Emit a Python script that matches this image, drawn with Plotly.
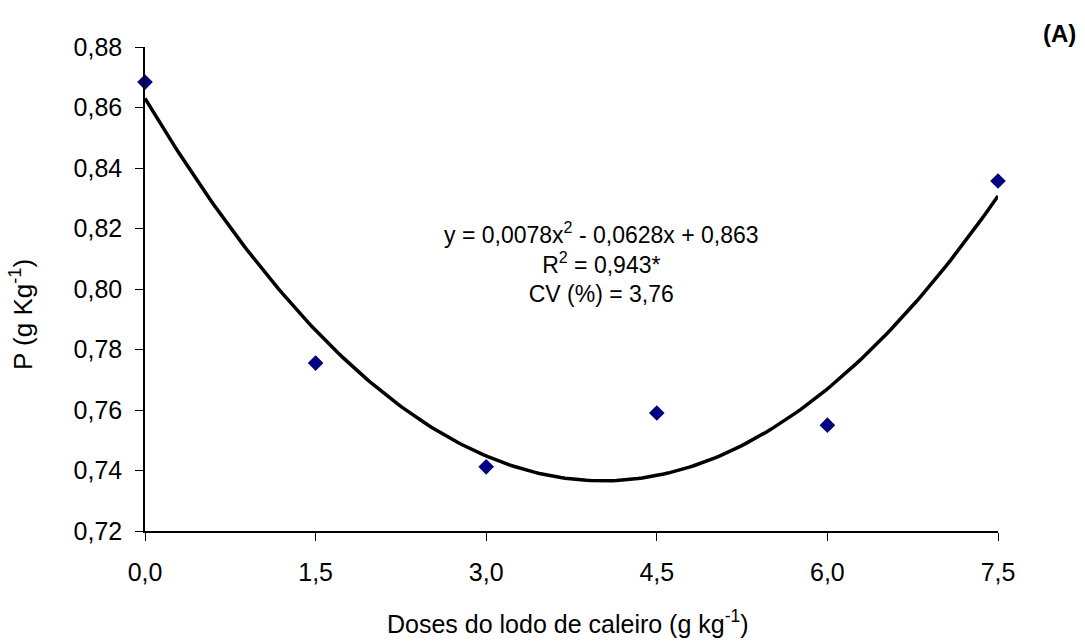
import numpy as np
import plotly.graph_objects as go

doses = [0.0, 1.5, 3.0, 4.5, 6.0, 7.5]
p_values = [0.8684, 0.7755, 0.7412, 0.7590, 0.7550, 0.8357]
coef = [0.0078, -0.0628, 0.863]  # trendline y = a x^2 + b x + c, from the chart's equation
x_ticks = [0.0, 1.5, 3.0, 4.5, 6.0, 7.5]
x_tick_labels = ["0,0", "1,5", "3,0", "4,5", "6,0", "7,5"]
y_ticks = [0.72, 0.74, 0.76, 0.78, 0.80, 0.82, 0.84, 0.86, 0.88]
y_tick_labels = ["0,72", "0,74", "0,76", "0,78", "0,80", "0,82", "0,84", "0,86", "0,88"]

xs = np.linspace(0, 7.5, 200)
ys = coef[0] * xs**2 + coef[1] * xs + coef[2]

font = "Liberation Sans, Arial, sans-serif"

fig = go.Figure()
fig.add_trace(go.Scatter(x=xs, y=ys, mode="lines",
                         line=dict(color="black", width=3.5), hoverinfo="skip"))
fig.add_trace(go.Scatter(x=doses, y=p_values, mode="markers",
                         marker=dict(symbol="diamond", size=12, color="#000080")))

fig.update_layout(
    width=1085, height=641,
    margin=dict(l=145, r=87, t=47, b=110),
    paper_bgcolor="white", plot_bgcolor="white",
    showlegend=False,
    font=dict(family=font, color="black", size=20),
    xaxis=dict(range=[0, 7.5], tickvals=x_ticks, ticktext=x_tick_labels,
               showgrid=False, zeroline=False, showline=True, linecolor="black",
               linewidth=1.5, ticks="outside", ticklen=8, tickcolor="black",
               tickfont=dict(size=25), ticklabelstandoff=10),
    yaxis=dict(range=[0.72, 0.88], tickvals=y_ticks, ticktext=y_tick_labels,
               showgrid=False, zeroline=False, showline=True, linecolor="black",
               linewidth=1.5, ticks="outside", ticklen=8, tickcolor="black",
               tickfont=dict(size=25), ticklabelstandoff=8),
)
fig.update_traces(cliponaxis=False)

W, H = 1085, 641
L, R, T, B = 145, 87, 47, 110
pw, ph = W - L - R, H - T - B


def add_px_annotation(px, py, text, **kw):
    fig.add_annotation(x=(px - L) / pw, y=1 - (py - T) / ph, xref="paper", yref="paper",
                       xanchor="center", yanchor="middle", showarrow=False, text=text, **kw)


add_px_annotation(568, 622, "Doses do lodo de caleiro (g kg<sup>-1</sup>)", font=dict(size=25))
add_px_annotation(21, 315, "P (g Kg<sup>-1</sup>)", textangle=-90, font=dict(size=26))
add_px_annotation(1059, 34, "<b>(A)</b>", font=dict(size=24))
add_px_annotation(601, 262,
                  "y = 0,0078x<sup>2</sup> - 0,0628x + 0,863<br>R<sup>2</sup> = 0,943*<br>CV (%) = 3,76",
                  font=dict(size=23), align="center")

fig.write_html("out.html", post_script="document.body.style.margin='0';",
               config={"displayModeBar": False})
